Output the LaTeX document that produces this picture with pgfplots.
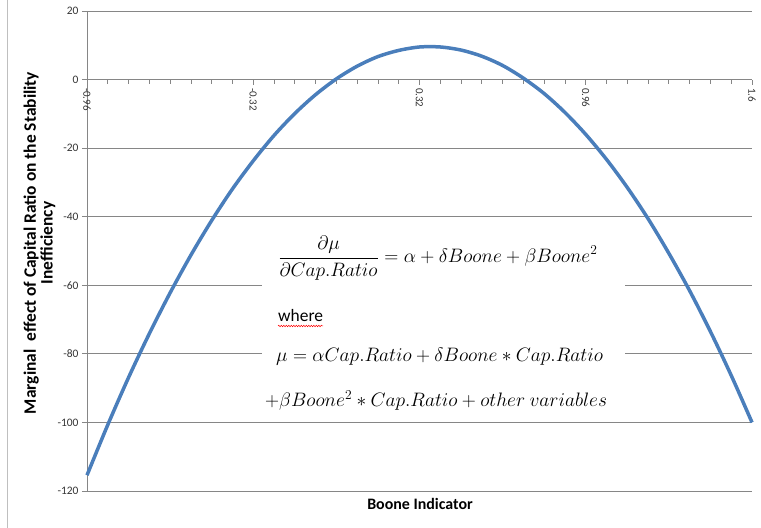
\documentclass[border=0pt]{standalone}
\usepackage{amsmath}
\usepackage{graphicx}
\usepackage{fontspec}
\setmainfont{Carlito}
\usepackage{pgfplots}
\pgfplotsset{compat=1.18}
\usetikzlibrary{decorations.pathmorphing}
\definecolor{excelblue}{RGB}{74,126,187}
\definecolor{gridgray}{RGB}{134,134,134}
\newcommand{\eqbox}[1]{\scalebox{1.13}{#1}}
\begin{document}
\begin{tikzpicture}[x=1bp,y=1bp]
\useasboundingbox (-87,-37) rectangle (674,491);
\begin{axis}[
  at={(0,0)}, anchor=south west,
  scale only axis, width=665bp, height=480bp,
  xmin=-0.96, xmax=1.6, ymin=-120, ymax=20,
  axis x line=middle, axis y line=left,
  axis line style={-, draw=gridgray, line width=0.8bp},
  hide obscured x ticks=false, hide obscured y ticks=false,
  xtick={-0.96,-0.32,0.32,0.96,1.6},
  xticklabels={-0.96,-0.32,0.32,0.96,1.6},
  minor x tick num=7,
  ytick={-120,-100,-80,-60,-40,-20,0,20},
  yticklabels={-120,-100,-80,-60,-40,-20,0,20},
  tick align=outside,
  major tick length=5bp, minor tick length=4bp,
  tick style={draw=gridgray, line width=0.8bp},
  ymajorgrids, grid style={draw=gridgray, line width=0.8bp},
  xticklabel style={rotate=-90, anchor=west, font=\fontsize{11}{12}\selectfont, text=black!80},
  yticklabel style={font=\fontsize{11.5}{12}\selectfont, text=black!80},
  clip=false,
]
\addplot[excelblue, line width=3.5bp, no markers, smooth] coordinates {
(-0.96,-115.4) (-0.88,-100.7) (-0.80,-86.9) (-0.72,-74.1) (-0.64,-62.2)
(-0.56,-51.2) (-0.48,-41.1) (-0.40,-31.9) (-0.32,-23.7) (-0.24,-16.3)
(-0.16,-9.9) (-0.08,-4.4) (0.00,0.2) (0.08,3.9) (0.16,6.7) (0.24,8.5)
(0.32,9.5) (0.40,9.5) (0.48,8.6) (0.56,6.8) (0.64,4.1) (0.72,0.4)
(0.80,-4.1) (0.88,-9.6) (0.96,-16.0) (1.04,-23.3) (1.12,-31.5)
(1.20,-40.6) (1.28,-50.7) (1.36,-61.6) (1.44,-73.5) (1.52,-86.3) (1.60,-100.0)
};
\end{axis}
\fill[white] (175,73) rectangle (538,269);
\begin{scope}[font=\fontsize{17.28}{20}\selectfont]
\node[anchor=west, inner sep=0pt] at (191,233) {\eqbox{$\displaystyle\frac{\partial\mu}{\partial Cap.Ratio}=\alpha+\delta Boone+\beta Boone^2$}};
\node[anchor=west, inner sep=0pt, font=\fontsize{17.5}{20}\selectfont] at (191,175) {where};
\node[anchor=west, inner sep=0pt] at (189,134) {\eqbox{$\mu=\alpha Cap.Ratio+\delta Boone\ast Cap.Ratio$}};
\node[anchor=west, inner sep=0pt] at (178,90) {\eqbox{$+\beta Boone^2\ast Cap.Ratio+other\ variables$}};
\end{scope}
\draw[red, line width=0.5bp, decorate, decoration={snake, amplitude=0.7bp, segment length=2.5bp}] (191,165) -- (236,165);
\node[rotate=90, align=center, font=\bfseries\fontsize{17.5}{17}\selectfont] at (-47.5,248) {Marginal\ \ effect of Capital Ratio on the Stability\\Inefficiency};
\node[font=\bfseries\fontsize{16}{18}\selectfont] at (333,-13) {Boone Indicator};
\draw[gray!50, line width=0.8bp] (-80,-37) -- (-80,491);
\end{tikzpicture}
\end{document}
